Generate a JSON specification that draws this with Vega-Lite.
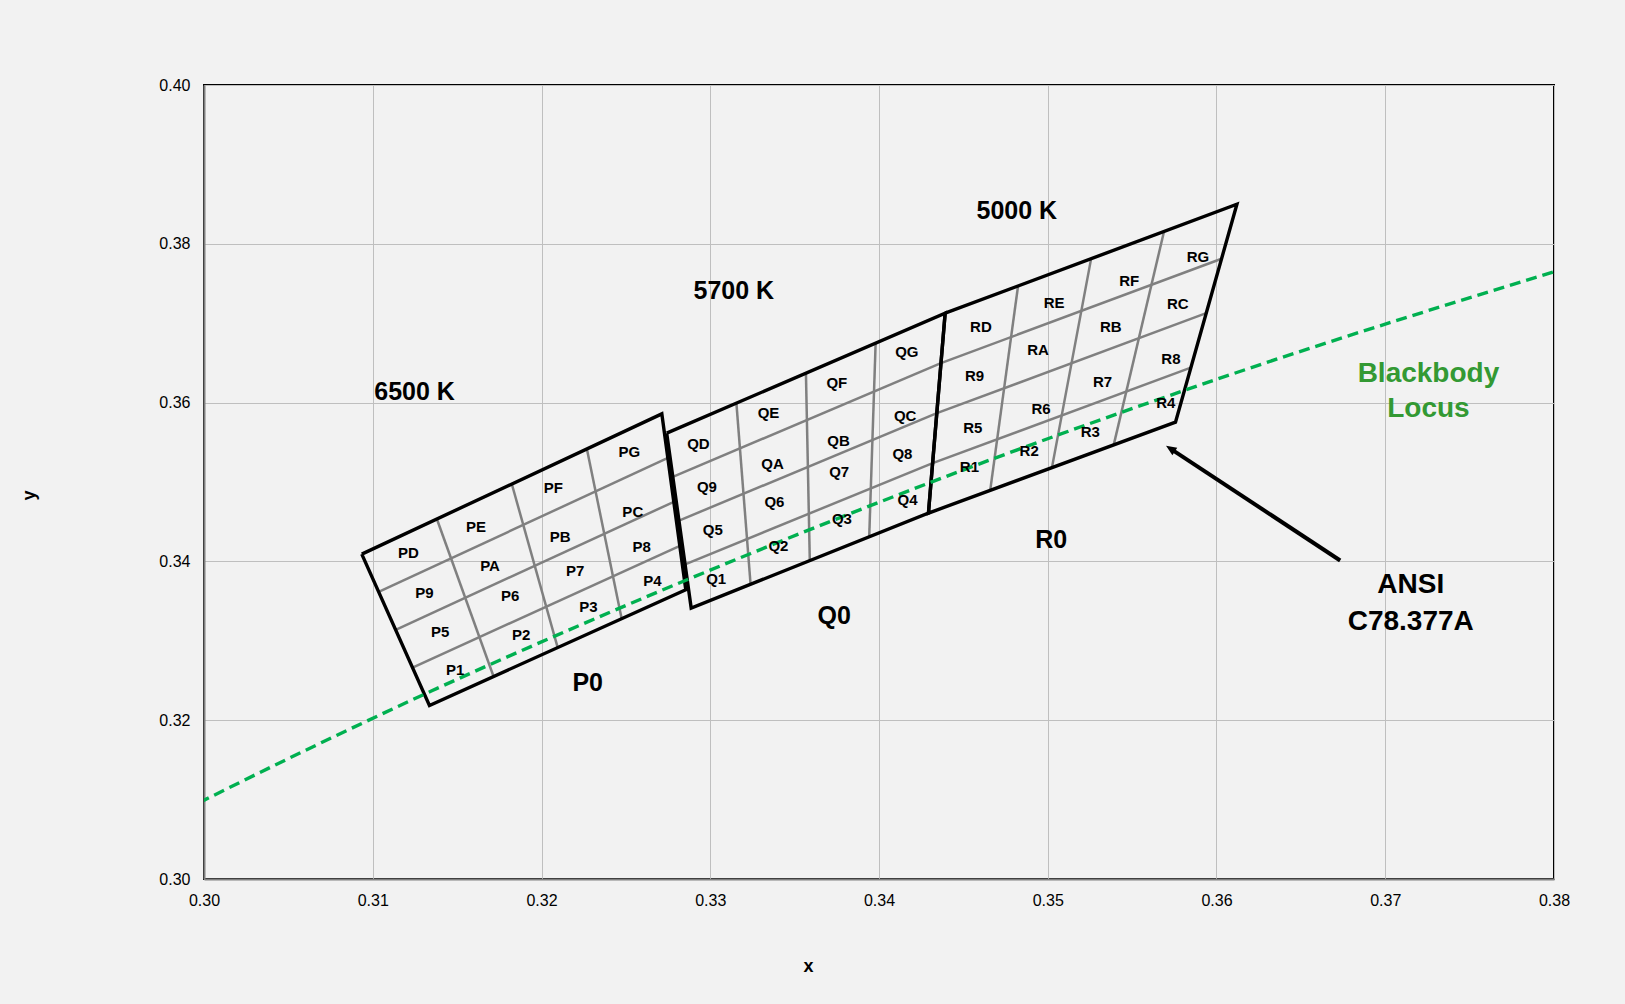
{
  "$schema": "https://vega.github.io/schema/vega-lite/v6.json",
  "width": 1350,
  "height": 794,
  "autosize": {"type": "none"},
  "padding": {"left": 204, "top": 85, "right": 71, "bottom": 125},
  "background": "#f2f2f2",
  "datasets": {
    "outline": [
      {"bin": "P", "i": 0, "x": 0.30935, "y": 0.34092},
      {"bin": "P", "i": 1, "x": 0.32713, "y": 0.35858},
      {"bin": "P", "i": 2, "x": 0.32855, "y": 0.33642},
      {"bin": "P", "i": 3, "x": 0.31336, "y": 0.32186},
      {"bin": "P", "i": 4, "x": 0.30935, "y": 0.34092},
      {"bin": "Q", "i": 0, "x": 0.32742, "y": 0.35615},
      {"bin": "Q", "i": 1, "x": 0.34392, "y": 0.37126},
      {"bin": "Q", "i": 2, "x": 0.34293, "y": 0.34608},
      {"bin": "Q", "i": 3, "x": 0.32887, "y": 0.33412},
      {"bin": "Q", "i": 4, "x": 0.32742, "y": 0.35615},
      {"bin": "R", "i": 0, "x": 0.34392, "y": 0.37126},
      {"bin": "R", "i": 1, "x": 0.36121, "y": 0.38498},
      {"bin": "R", "i": 2, "x": 0.35757, "y": 0.35754},
      {"bin": "R", "i": 3, "x": 0.34293, "y": 0.34608},
      {"bin": "R", "i": 4, "x": 0.34392, "y": 0.37126}
    ],
    "grid": [
      {"x": 0.31380, "y": 0.34534, "x2": 0.31716, "y2": 0.32550},
      {"x": 0.31824, "y": 0.34975, "x2": 0.32096, "y2": 0.32914},
      {"x": 0.32269, "y": 0.35417, "x2": 0.32475, "y2": 0.33278},
      {"x": 0.31035, "y": 0.33616, "x2": 0.32749, "y2": 0.35304},
      {"x": 0.31136, "y": 0.33139, "x2": 0.32784, "y2": 0.34750},
      {"x": 0.31236, "y": 0.32663, "x2": 0.32820, "y2": 0.34196},
      {"x": 0.33155, "y": 0.35993, "x2": 0.33239, "y2": 0.33711},
      {"x": 0.33567, "y": 0.36371, "x2": 0.33590, "y2": 0.34010},
      {"x": 0.33980, "y": 0.36748, "x2": 0.33942, "y2": 0.34309},
      {"x": 0.32778, "y": 0.35064, "x2": 0.34367, "y2": 0.36497},
      {"x": 0.32815, "y": 0.34514, "x2": 0.34343, "y2": 0.35867},
      {"x": 0.32851, "y": 0.33963, "x2": 0.34318, "y2": 0.35238},
      {"x": 0.34824, "y": 0.37469, "x2": 0.34659, "y2": 0.34895},
      {"x": 0.35257, "y": 0.37812, "x2": 0.35025, "y2": 0.35181},
      {"x": 0.35689, "y": 0.38155, "x2": 0.35391, "y2": 0.35468},
      {"x": 0.34367, "y": 0.36497, "x2": 0.36030, "y2": 0.37812},
      {"x": 0.34343, "y": 0.35867, "x2": 0.35939, "y2": 0.37126},
      {"x": 0.34318, "y": 0.35238, "x2": 0.35848, "y2": 0.36440}
    ],
    "locus": [
      {"i": 0, "x": 0.2952, "y": 0.3048},
      {"i": 1, "x": 0.3064, "y": 0.3166},
      {"i": 2, "x": 0.3135, "y": 0.3237},
      {"i": 3, "x": 0.3221, "y": 0.3318},
      {"i": 4, "x": 0.3324, "y": 0.3410},
      {"i": 5, "x": 0.3451, "y": 0.3516},
      {"i": 6, "x": 0.3608, "y": 0.3635},
      {"i": 7, "x": 0.3805, "y": 0.3768}
    ],
    "cells": [
      {"l": "PD", "x": 0.31211, "y": 0.34104},
      {"l": "PE", "x": 0.31612, "y": 0.34439},
      {"l": "PF", "x": 0.32070, "y": 0.34923},
      {"l": "PG", "x": 0.32521, "y": 0.35383},
      {"l": "P9", "x": 0.31306, "y": 0.33608},
      {"l": "PA", "x": 0.31695, "y": 0.33948},
      {"l": "PB", "x": 0.32110, "y": 0.34306},
      {"l": "PC", "x": 0.32541, "y": 0.34628},
      {"l": "P5", "x": 0.31399, "y": 0.33117},
      {"l": "P6", "x": 0.31814, "y": 0.33570},
      {"l": "P7", "x": 0.32199, "y": 0.33885},
      {"l": "P8", "x": 0.32594, "y": 0.34187},
      {"l": "P1", "x": 0.31488, "y": 0.32626},
      {"l": "P2", "x": 0.31879, "y": 0.33076},
      {"l": "P3", "x": 0.32278, "y": 0.33424},
      {"l": "P4", "x": 0.32657, "y": 0.33759},
      {"l": "QD", "x": 0.32930, "y": 0.35480},
      {"l": "QE", "x": 0.33345, "y": 0.35867},
      {"l": "QF", "x": 0.33750, "y": 0.36252},
      {"l": "QG", "x": 0.34165, "y": 0.36642},
      {"l": "Q9", "x": 0.32980, "y": 0.34943},
      {"l": "QA", "x": 0.33369, "y": 0.35229},
      {"l": "QB", "x": 0.33760, "y": 0.35522},
      {"l": "QC", "x": 0.34155, "y": 0.35837},
      {"l": "Q5", "x": 0.33015, "y": 0.34398},
      {"l": "Q6", "x": 0.33380, "y": 0.34754},
      {"l": "Q7", "x": 0.33764, "y": 0.35124},
      {"l": "Q8", "x": 0.34139, "y": 0.35351},
      {"l": "Q1", "x": 0.33035, "y": 0.33777},
      {"l": "Q2", "x": 0.33404, "y": 0.34196},
      {"l": "Q3", "x": 0.33780, "y": 0.34536},
      {"l": "Q4", "x": 0.34169, "y": 0.34775},
      {"l": "RD", "x": 0.34604, "y": 0.36957},
      {"l": "RE", "x": 0.35038, "y": 0.37259},
      {"l": "RF", "x": 0.35483, "y": 0.37532},
      {"l": "RG", "x": 0.35890, "y": 0.37838},
      {"l": "R9", "x": 0.34566, "y": 0.36340},
      {"l": "RA", "x": 0.34942, "y": 0.36664},
      {"l": "RB", "x": 0.35374, "y": 0.36957},
      {"l": "RC", "x": 0.35771, "y": 0.37239},
      {"l": "R5", "x": 0.34556, "y": 0.35678},
      {"l": "R6", "x": 0.34960, "y": 0.35917},
      {"l": "R7", "x": 0.35325, "y": 0.36265},
      {"l": "R8", "x": 0.35730, "y": 0.36550},
      {"l": "R1", "x": 0.34536, "y": 0.35187},
      {"l": "R2", "x": 0.34890, "y": 0.35392},
      {"l": "R3", "x": 0.35252, "y": 0.35635},
      {"l": "R4", "x": 0.35700, "y": 0.36000}
    ],
    "big": [
      {"l": "6500 K", "x": 0.31248, "y": 0.36139},
      {"l": "5700 K", "x": 0.33140, "y": 0.37404},
      {"l": "5000 K", "x": 0.34817, "y": 0.38409},
      {"l": "P0", "x": 0.32274, "y": 0.32471},
      {"l": "Q0", "x": 0.33735, "y": 0.33307},
      {"l": "R0", "x": 0.35020, "y": 0.34273}
    ],
    "ansi": [
      {"l": "ANSI", "x": 0.37151, "y": 0.33698},
      {"l": "C78.377A", "x": 0.37151, "y": 0.33242}
    ],
    "bb": [
      {"l": "Blackbody", "x": 0.37256, "y": 0.36360},
      {"l": "Locus", "x": 0.37256, "y": 0.35916}
    ],
    "shaft": [
      {"x": 0.36733, "y": 0.34011, "x2": 0.35740, "y2": 0.35402}
    ],
    "head": [
      {"x": 0.35727, "y": 0.35420}
    ]
  },
  "encoding": {
    "x": {
      "field": "x", "type": "quantitative", "title": "x",
      "scale": {"domain": [0.30, 0.38], "nice": false, "zero": false},
      "axis": {
        "values": [0.30, 0.31, 0.32, 0.33, 0.34, 0.35, 0.36, 0.37, 0.38],
        "format": ".2f", "labelFlush": false, "labelPadding": 13,
        "titleX": 604, "titleY": 87, "titleBaseline": "middle", "titleAlign": "center"
      }
    },
    "y": {
      "field": "y", "type": "quantitative", "title": "y",
      "scale": {"domain": [0.30, 0.40], "nice": false, "zero": false},
      "axis": {
        "values": [0.30, 0.32, 0.34, 0.36, 0.38, 0.40],
        "format": ".2f", "labelPadding": 14,
        "titleX": -175, "titleY": 410, "titleBaseline": "middle", "titleAlign": "center"
      }
    }
  },
  "layer": [
    {
      "data": {"name": "grid"},
      "mark": {"type": "rule", "color": "#808080", "strokeWidth": 2.5},
      "encoding": {"x2": {"field": "x2"}, "y2": {"field": "y2"}}
    },
    {
      "data": {"name": "outline"},
      "mark": {"type": "line", "color": "#000000", "strokeWidth": 3.4, "strokeJoin": "miter"},
      "encoding": {"detail": {"field": "bin"}, "order": {"field": "i", "type": "quantitative"}}
    },
    {
      "data": {"name": "locus"},
      "mark": {"type": "line", "color": "#00b050", "strokeWidth": 3.4, "strokeDash": [11, 6], "clip": true, "interpolate": "monotone"},
      "encoding": {"order": {"field": "i", "type": "quantitative"}}
    },
    {
      "data": {"name": "shaft"},
      "mark": {"type": "rule", "color": "#000000", "strokeWidth": 4},
      "encoding": {"x2": {"field": "x2"}, "y2": {"field": "y2"}}
    },
    {
      "data": {"name": "head"},
      "mark": {"type": "point", "shape": "M0,-1L0.85,1L-0.85,1Z", "size": 110, "angle": 303, "filled": true, "color": "#000000", "opacity": 1},
      "encoding": {}
    },
    {
      "data": {"name": "cells"},
      "mark": {"type": "text", "fontSize": 15, "fontWeight": "bold", "color": "#000000", "align": "center", "baseline": "middle", "font": "Liberation Sans"},
      "encoding": {"text": {"field": "l"}}
    },
    {
      "data": {"name": "big"},
      "mark": {"type": "text", "fontSize": 25, "fontWeight": "bold", "color": "#000000", "align": "center", "baseline": "middle", "font": "Liberation Sans"},
      "encoding": {"text": {"field": "l"}}
    },
    {
      "data": {"name": "ansi"},
      "mark": {"type": "text", "fontSize": 28, "fontWeight": "bold", "color": "#000000", "align": "center", "baseline": "middle", "font": "Liberation Sans"},
      "encoding": {"text": {"field": "l"}}
    },
    {
      "data": {"name": "bb"},
      "mark": {"type": "text", "fontSize": 28, "fontWeight": "bold", "color": "#339933", "align": "center", "baseline": "middle", "font": "Liberation Sans"},
      "encoding": {"text": {"field": "l"}}
    }
  ],
  "config": {
    "font": "Liberation Sans",
    "view": {"stroke": "#000000", "strokeWidth": 2},
    "axis": {
      "grid": true, "gridColor": "#bfbfbf", "gridWidth": 1,
      "ticks": false, "tickSize": 0,
      "domainColor": "#808080", "domainWidth": 2,
      "labelFont": "Liberation Sans", "labelFontSize": 16, "labelColor": "#000000",
      "titleFont": "Liberation Sans", "titleFontSize": 18, "titleFontWeight": "bold", "titleColor": "#000000"
    }
  }
}
